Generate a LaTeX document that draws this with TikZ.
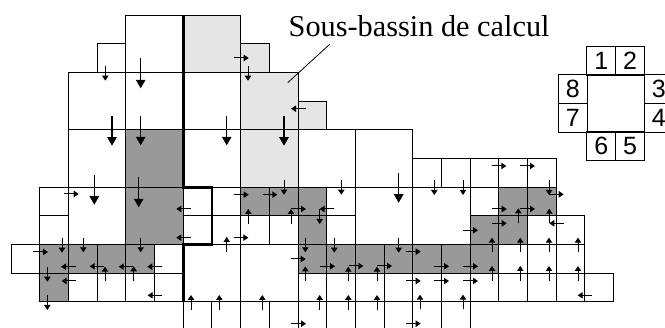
\documentclass[tikz,border=0pt]{standalone}
\usepackage{fontspec}
\setmainfont{Liberation Serif}
\newfontfamily\legfont{Liberation Sans}
\usetikzlibrary{arrows.meta}
\definecolor{darkcell}{HTML}{999999}
\definecolor{lightcell}{HTML}{E5E5E5}
\tikzset{
  gridcell/.style={draw=black,line width=1pt},
  darkbox/.style={gridcell,fill=darkcell},
  lightbox/.style={gridcell,fill=lightcell},
  thickline/.style={draw=black,line width=2.8pt,line join=miter},
  sarrow/.style={draw=black,line width=1pt,-{Triangle[length=5pt,width=6.4pt]}},
  barrow/.style={draw=black,line width=1.1pt,-{Triangle[length=8.5pt,width=9.5pt]}},
  legcell/.style={draw=black,line width=1pt,minimum width=28.67pt,minimum height=28.67pt,inner sep=0pt,font=\legfont\fontsize{25}{25}\selectfont},
  grid units/.style={shift={(11.3,15.3)},x=28.67pt,y=-28.67pt}
}
\begin{document}
\begin{tikzpicture}[x=1pt,y=-1pt]
\useasboundingbox (0,0) rectangle (665,328);
\clip (0,0) rectangle (665,328);
\begin{scope}[grid units]
  % white cells
  \foreach \a/\b/\c/\d in {4/0/6/2,3/1/4/2,2/2/4/4,4/2/6/4,6/2/8/4,2/4/4/6,6/4/8/6,10/4/12/6,12/4/14/6,
    1/6/2/7,1/7/2/8,2/6/4/8,6/6/7/7,6/7/7/8,7/6/8/7,7/7/8/8,8/7/9/8,9/7/10/8,11/6/12/7,11/7/12/8,12/6/14/8,
    14/5/15/6,15/5/16/6,16/5/17/6,17/5/18/6,18/5/19/6,14/6/16/8,16/6/17/7,18/7/19/8,19/7/20/8,
    0/8/1/9,5/8/6/9,2/9/3/10,3/9/4/10,4/9/5/10,5/9/6/10,6/8/8/10,8/8/10/10,
    17/8/18/9,18/8/19/9,19/8/20/9,
    10/9/11/10,11/9/12/10,12/9/13/10,13/9/14/10,14/9/15/10,15/9/16/10,16/9/17/10,17/9/18/10,18/9/19/10,19/9/20/10,20/9/21/10}
    \draw[gridcell] (\a,\b) rectangle (\c,\d);
  % lower open columns
  \foreach \a in {6,...,16}
    \draw[gridcell] (\a,10) -- (\a,11);
  % light cells
  \foreach \a/\b/\c/\d in {6/0/8/2,8/1/9/2,8/2/10/4,10/3/11/4,8/4/10/6}
    \draw[lightbox] (\a,\b) rectangle (\c,\d);
  % dark cells
  \foreach \a/\b/\c/\d in {4/4/6/6,4/6/6/8,1/8/2/9,2/8/3/9,3/8/4/9,4/8/5/9,1/9/2/10,
    8/6/9/7,9/6/10/7,10/6/11/7,10/7/11/8,10/8/11/9,11/8/12/9,12/8/13/9,13/8/14/9,14/8/15/9,15/8/16/9,16/8/17/9,
    17/6/18/7,18/6/19/7,16/7/17/8,17/7/18/8}
    \draw[darkbox] (\a,\b) rectangle (\c,\d);
  % sub-basin boundary
  \draw[thickline] (6,0) -- (6,6) -- (7,6) -- (7,8) -- (6,8) -- (6,10);
\end{scope}
% small arrows
\foreach \a/\b/\c/\d in {
  105.3/66/105.3/80.7, 64/194/78.7/194, 191/209/176.3/209, 191/237.7/176.3/237.7,
  62/238/62/252.7, 83.3/237.7/83.3/252.3, 140.7/237.7/140.7/252.3, 33.3/252/48/252,
  75.7/266.7/61/266.7, 104.3/266.3/89.7/266.3, 133.3/266.7/118.7/266.7, 162/266.7/147.3/266.7,
  105/281.3/105/266.7, 133.7/281/133.7/266.3, 47.3/267/47.3/281.7, 76.3/281/61.7/281,
  162.3/295.3/147.7/295.3, 47.3/295.3/47.3/310, 191/309.7/191/295, 219.3/309.7/219.3/295,
  234/58/248.7/58, 248/66/248/80.7, 305.7/108.7/291/108.7,
  284/180/284/194.7, 341.3/180/341.3/194.7, 234/194.7/248.7/194.7, 262.7/194.7/277.3/194.7,
  291.3/209/306/209, 334.3/209/319.7/209, 248.3/223.7/248.3/209, 291/223.7/291/209,
  319.7/209.3/319.7/224, 226.7/251.7/226.7/237, 233.7/237.7/248.3/237.7,
  305.3/237.7/305.3/252.3, 334.3/238/334.3/252.7, 398.7/238/398.7/252.7, 291/259/305.7/259,
  320.3/266.3/335/266.3, 348.7/266/363.3/266, 377.3/266/392/266,
  305.3/281/305.3/266.3, 348.3/281.3/348.3/266.7, 377/281.3/377/266.7,
  262.3/309.7/262.3/295, 319.7/309.7/319.7/295, 348.3/309.7/348.3/295, 377/309.7/377/295,
  291.3/323.7/306/323.7,
  491.7/166/506.3/166, 520.3/166/535/166, 434.3/180.3/434.3/195, 463/180.3/463/195, 549/180.3/549/195,
  549/194.3/563.7/194.3, 492/209/506.7/209, 520.3/209/535/209, 518.3/223/518.3/208.3,
  549.3/223.3/549.3/208.7, 564/223.3/549.3/223.3, 492/223.3/506.7/223.3, 463.3/230.3/478/230.3,
  492/252.3/492/237.7, 520.3/252.3/520.3/237.7, 549/252.3/549/237.7, 578/252.3/578/237.7,
  406/251.7/420.7/251.7, 434.3/266.3/449/266.3, 463.3/266.3/478/266.3,
  492/280.7/492/266, 520.3/280.7/520.3/266, 549/280.7/549/266, 578/280.7/578/266,
  406/281/420.7/281, 434.3/281/449/281, 463.3/281/478/281,
  420/309.3/420/294.7, 463/309.3/463/294.7, 592.3/295.3/577.7/295.3, 406/323.7/420.7/323.7}
  \draw[sarrow] (\a,\b) -- (\c,\d);
% large arrows
\foreach \a/\b/\c/\d in {
  140.7/58.3/140.7/88.3, 112/116/112/145.7, 140.7/115.7/140.7/145.3,
  94.3/175/94.3/204.7, 138.7/177.3/138.7/207.3,
  226.7/115.7/226.7/145.3, 284/116/284/145.7, 398.7/173/398.7/202.7}
  \draw[barrow] (\a,\b) -- (\c,\d);
% label and leader
\node[anchor=base west,inner sep=0pt,font=\fontsize{30.3}{30.3}\selectfont] (souslabel) at (288.5,37) {Sous-bassin de calcul};
\coordinate (leadstart) at (329.7,44.3);
\coordinate (leadend) at (287.7,82.7);
\draw[black,line width=0.8pt] (leadstart) -- (leadend);
% legend
\node[draw=black,line width=1pt,minimum width=57.33pt,minimum height=57.33pt,inner sep=0pt] (legcentre) at (615.67,103.5) {};
\node[legcell] (leg1) at (601.3,60.7) {1};
\node[legcell] (leg2) at (630,60.7) {2};
\node[legcell] (leg3) at (658.7,89.2) {3};
\node[legcell] (leg4) at (658.7,117.8) {4};
\node[legcell] (leg5) at (630,146.3) {5};
\node[legcell] (leg6) at (601.3,146.3) {6};
\node[legcell] (leg7) at (572.7,117.8) {7};
\node[legcell] (leg8) at (572.7,89.2) {8};
\end{tikzpicture}
\end{document}
